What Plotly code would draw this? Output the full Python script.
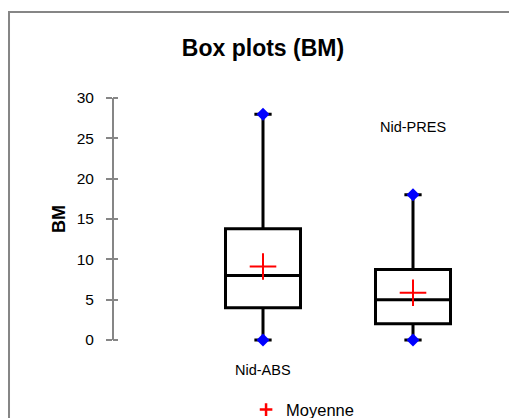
import plotly.graph_objects as go

categories = ["Nid-ABS", "Nid-PRES"]
minimum = [0, 0]
q1 = [4, 2]
median = [8, 5]
q3 = [13.8, 8.75]
maximum = [28, 18]
mean = [9.1, 5.85]
ytick_vals = [0, 5, 10, 15, 20, 25, 30]

xpos = [1, 2]
FONT = "Liberation Sans"
GRAY = "#868686"

fig = go.Figure()
fig.add_trace(go.Box(
    x=xpos, q1=q1, median=median, q3=q3,
    lowerfence=minimum, upperfence=maximum,
    width=0.5, whiskerwidth=0.23,
    fillcolor="white", line=dict(color="black", width=3),
    showlegend=False, hoverinfo="skip", boxpoints=False,
))
fig.add_trace(go.Scatter(
    x=xpos + xpos, y=minimum + maximum, mode="markers",
    marker=dict(symbol="diamond", size=10, color="#0000ff"),
    showlegend=False, hoverinfo="skip",
))
fig.add_trace(go.Scatter(
    x=xpos, y=mean, mode="markers", name="Moyenne", showlegend=False,
    marker=dict(symbol="cross-thin", size=19, line=dict(color="#ff0000", width=2)),
    hoverinfo="skip",
))
# legend entry for the mean (smaller symbol as in the reference legend)
fig.add_trace(go.Scatter(
    x=[None], y=[None], mode="markers", name="Moyenne",
    marker=dict(symbol="cross-thin", size=9, line=dict(color="#ff0000", width=2.5)),
    hoverinfo="skip",
))

# category labels (first one sits below the plot area, second one above its box)
fig.add_annotation(x=xpos[0], y=-0.084, xref="x", yref="paper", yanchor="middle",
                   text=categories[0], showarrow=False,
                   font=dict(family=FONT, size=14.5, color="black"))
fig.add_annotation(x=xpos[1], y=26.4, xref="x", yref="y", yanchor="middle",
                   text=categories[1], showarrow=False,
                   font=dict(family=FONT, size=14.5, color="black"))

# y axis line from 0 to 30
fig.add_shape(type="line", xref="paper", yref="y", x0=0, x1=0,
              y0=ytick_vals[0], y1=ytick_vals[-1], line=dict(color=GRAY, width=2))
# chart border
fig.add_shape(type="rect", xref="paper", yref="paper",
              x0=-0.2626, x1=1.1, y0=-0.4, y1=1.3023,
              line=dict(color=GRAY, width=2), layer="below")

fig.update_layout(
    width=509, height=418,
    margin=dict(l=113, r=0, t=90, b=70, autoexpand=False),
    paper_bgcolor="white", plot_bgcolor="white",
    title=dict(text="<b>Box plots (BM)</b>", x=263 / 509, xanchor="center",
               y=1 - 48 / 418, yanchor="middle",
               font=dict(family=FONT, size=23, color="black")),
    xaxis=dict(range=[0, 2.64], visible=False, fixedrange=True),
    yaxis=dict(range=[-1, 31], tickvals=ytick_vals, ticks="outside", ticklen=6,
               tickcolor=GRAY, tickwidth=2, showline=False, showgrid=False,
               zeroline=False, ticklabelstandoff=9,
               tickfont=dict(family=FONT, size=15.5, color="black"),
               title=dict(text="<b>BM</b>", standoff=6,
                          font=dict(family=FONT, size=18, color="black"))),
    yaxis2=dict(range=[-1, 31], overlaying="y", side="left", tickvals=ytick_vals,
                ticks="inside", ticklen=5, tickcolor=GRAY, tickwidth=2,
                showticklabels=False, showline=False, showgrid=False, zeroline=False),
    legend=dict(orientation="h", x=0.336, xanchor="left", y=-0.172, yanchor="top",
                font=dict(family=FONT, size=16.5, color="black"),
                itemwidth=30, tracegroupgap=0, bgcolor="rgba(0,0,0,0)"),
)
# dummy trace to activate yaxis2
fig.add_trace(go.Scatter(x=[None], y=[None], yaxis="y2", showlegend=False, hoverinfo="skip"))

fig.write_html("out.html", config={"displayModeBar": False})

# remove default page margin so the figure sits at the top-left corner
with open("out.html", encoding="utf-8") as f:
    html = f.read()
html = html.replace("<head>", "<head><style>html,body{margin:0;padding:0;overflow:hidden;}</style>", 1)
with open("out.html", "w", encoding="utf-8") as f:
    f.write(html)
